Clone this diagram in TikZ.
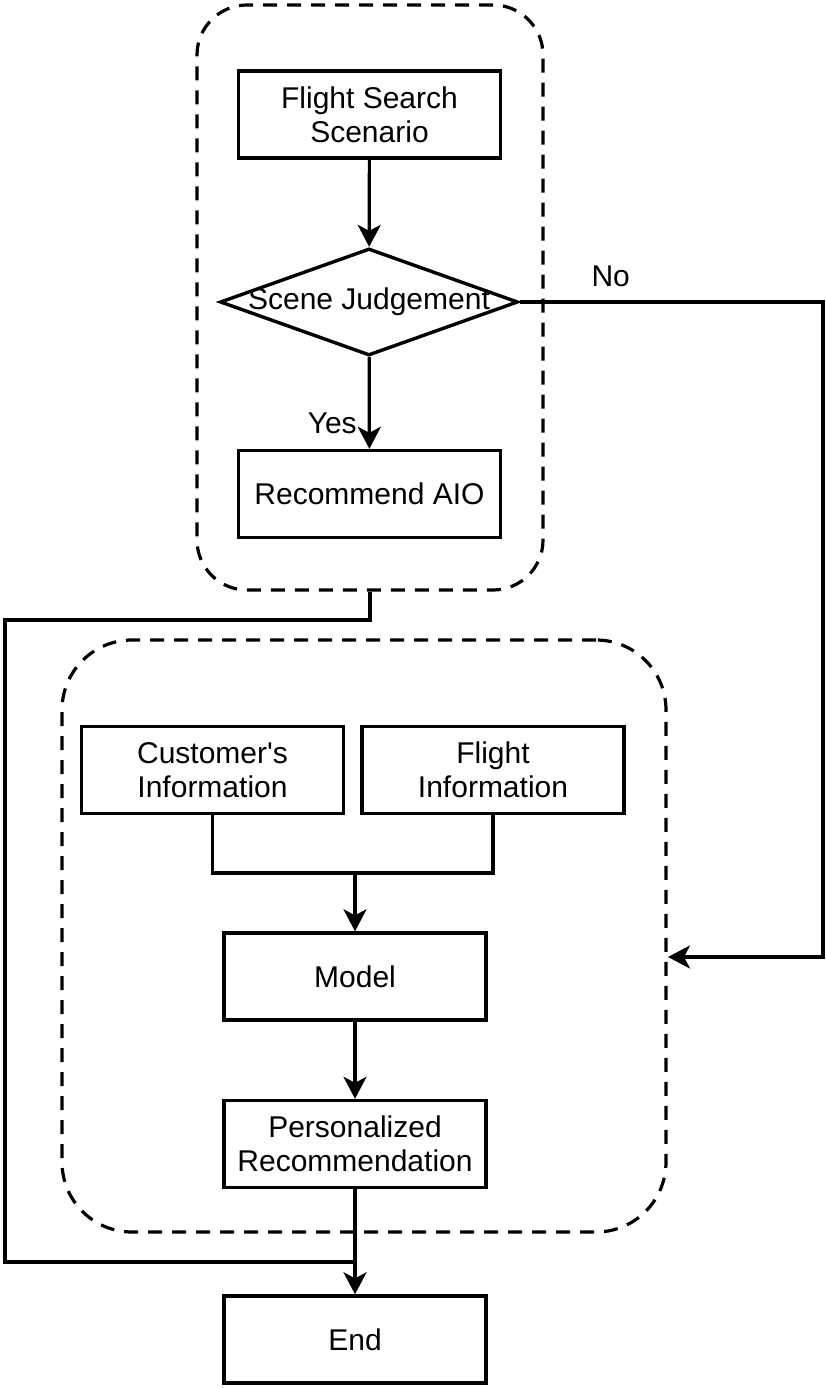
\documentclass[tikz,border=0pt]{standalone}
\usepackage{fontspec}
\setmainfont{Liberation Sans}
\usepackage{tikz}
\usetikzlibrary{arrows.meta}
\usetikzlibrary{shapes.geometric}

\begin{document}
\begin{tikzpicture}[x=1pt,y=-1pt]
  \tikzstyle{every node}=[font=\fontsize{30}{34}\selectfont]
  \tikzstyle{box} = [draw,line width=3.4pt,align=center,inner sep=0pt,minimum width=262,minimum height=87]
  \tikzstyle{judgebox} = [draw,line width=3.4pt,diamond,inner sep=0pt,minimum width=298,minimum height=107]
  \tikzstyle{group} = [draw,line width=3.2pt,dash pattern=on 14pt off 10pt,inner sep=0pt]
  \tikzstyle{flow} = [draw,line width=3.2pt,-{Stealth[length=22pt,width=23pt,inset=6pt]}]
  \tikzstyle{wire} = [draw,line width=3.2pt]
  \useasboundingbox (0,0) rectangle (826,1388);
  %%
  \node[group,rounded corners=50pt,minimum width=346,minimum height=585] (grpA) at (370,297.5) {};
  \node[group,rounded corners=70pt,minimum width=604,minimum height=592] (grpB) at (364,936) {};
  %%
  \node[box] (fss) at (369.5,114.5) {Flight Search\\Scenario};
  \node[judgebox,label={center:Scene Judgement}] (judge) at (369,302) {};
  \node[box] (aio) at (369.5,494) {Recommend AIO};
  \node[box] (cust) at (212.5,770) {Customer\textquotesingle s\\Information};
  \node[box] (finfo) at (493,770) {Flight\\Information};
  \node[box] (model) at (355,976.5) {Model};
  \node[box] (pers) at (355,1144) {Personalized\\Recommendation};
  \node[box] (endn) at (355,1339.5) {End};
  %%
  \coordinate (merge) at (355,873);
  \coordinate (noin) at (668,957);
  \coordinate (back) at (355,1262);
  %%
  \path [flow] (fss) to (judge);
  \path [flow] (judge) to node[left,pos=.72,inner sep=11pt] {Yes} (aio);
  \path [flow] (judge.east) -- (823,302) node[pos=.3,above=10pt] {No} |- (noin);
  \path [wire] (grpA.south) -- (370,620) -| (5,1262) -- (back);
  \path [wire] (cust.south) |- (merge) -| (finfo.south);
  \path [flow] (merge) to (model);
  \path [flow] (model) to (pers);
  \path [flow] (pers) to (endn);
\end{tikzpicture}
\end{document}
